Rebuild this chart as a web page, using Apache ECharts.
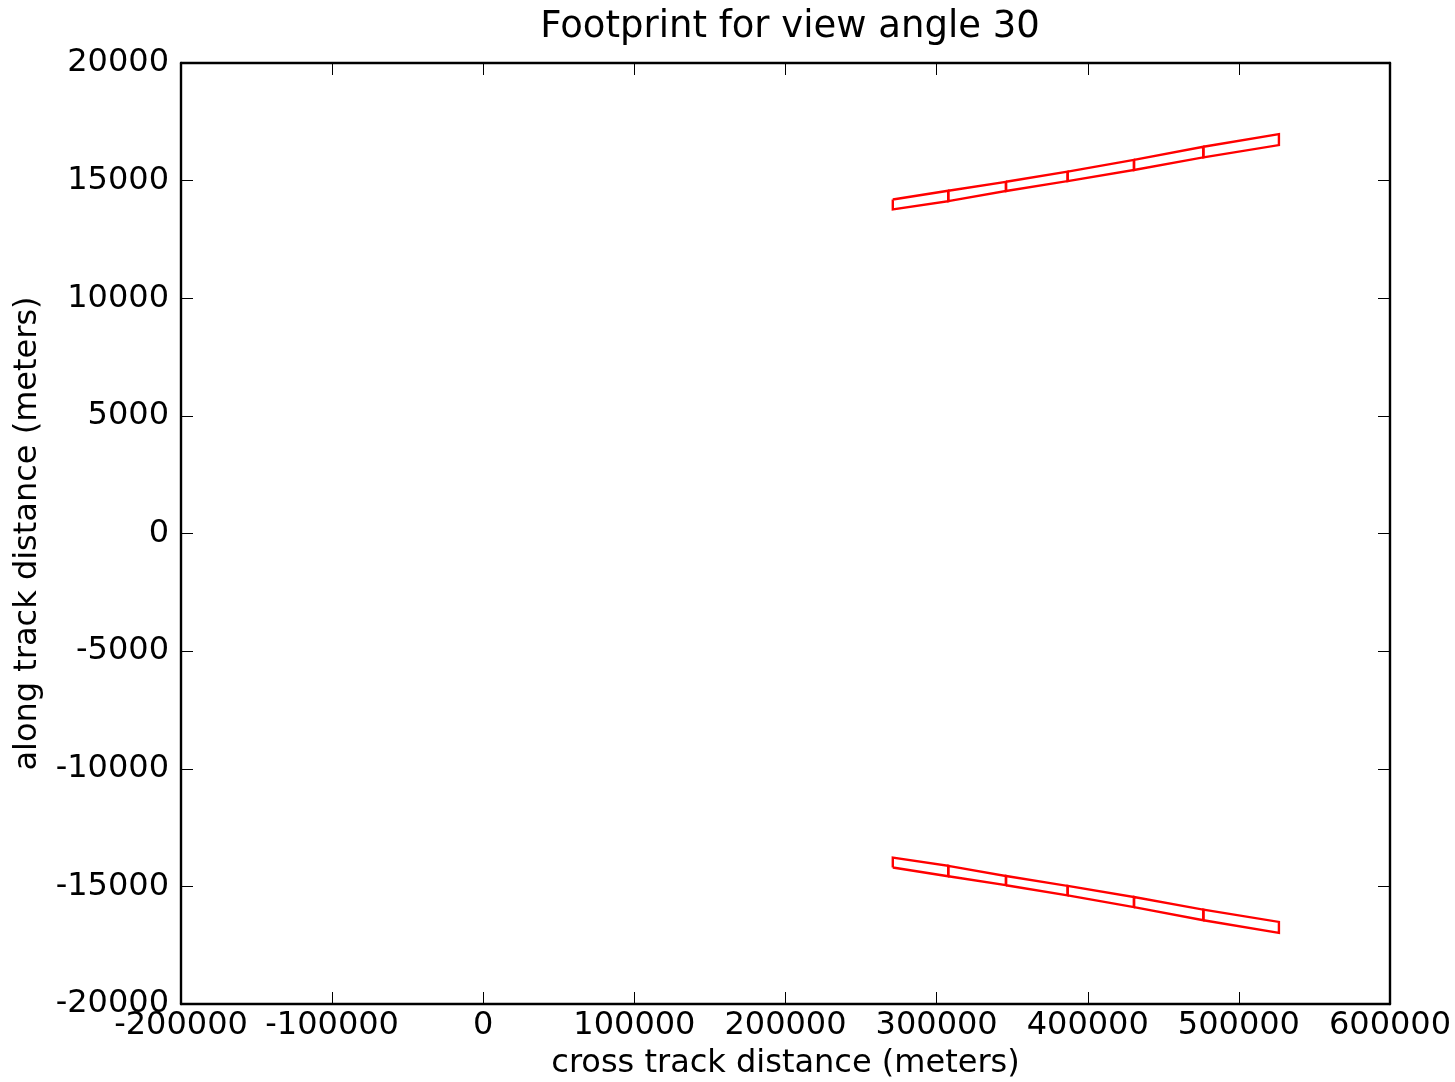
<!DOCTYPE html>
<html>
<head>
<meta charset="utf-8">
<script src="https://cdn.jsdelivr.net/npm/echarts@6/dist/echarts.min.js"></script>
<style>html,body{margin:0;padding:0;background:#fff}#c{width:1455px;height:1082px}</style>
</head>
<body>
<div id="c"></div>
<script>
// Footprint cell edges (cross track, meters)
const edgeX = [271000, 307700, 345900, 386700, 430600, 476500, 526500];
// Upper strip: outer and inner along-track edges (meters)
const upperOuterY = [14200, 14570, 14950, 15380, 15880, 16440, 16980];
const upperInnerY = [13780, 14130, 14560, 14980, 15450, 15990, 16510];
// Lower strip (mirror)
const lowerOuterY = [-14200, -14570, -14950, -15380, -15880, -16440, -16980];
const lowerInnerY = [-13780, -14130, -14560, -14980, -15450, -15990, -16510];

const xTicks = [-200000, -100000, 0, 100000, 200000, 300000, 400000, 500000, 600000];
const yTicks = [-20000, -15000, -10000, -5000, 0, 5000, 10000, 15000, 20000];

const FONT = 'DejaVu Sans';
const FS = 32;
const series = [];
function addStrip(outer, inner) {
  for (let i = 0; i < edgeX.length - 1; i++) {
    series.push({
      type: 'line', showSymbol: false, silent: true, animation: false,
      lineStyle: { color: '#ff0000', width: 2.4, join: 'miter' },
      data: [[edgeX[i], outer[i]], [edgeX[i+1], outer[i+1]], [edgeX[i+1], inner[i+1]], [edgeX[i], inner[i]], [edgeX[i], outer[i]]]
    });
  }
}
addStrip(upperOuterY, upperInnerY);
addStrip(lowerOuterY, lowerInnerY);

const chart = echarts.init(document.getElementById('c'), null, { renderer: 'canvas' });
const axisCommon = {
  type: 'value', splitLine: { show: false },
  axisLine: { show: true, onZero: false, lineStyle: { color: '#000', width: 2.4 } },
  axisTick: { show: true, inside: true, length: 12, lineStyle: { color: '#000', width: 1 } }
};
const fmt = v => String(v);
chart.setOption({
  animation: false,
  backgroundColor: '#fff',
  title: {
    text: 'Footprint for view angle 30', left: 785, textAlign: 'center', top: 4,
    textStyle: { fontFamily: FONT, fontSize: 37, fontWeight: 'normal', color: '#000' }
  },
  grid: { left: 181, right: 65, top: 63, bottom: 78, containLabel: false, outerBoundsMode: 'none' },
  xAxis: [
    Object.assign({}, axisCommon, {
      min: xTicks[0], max: xTicks[xTicks.length - 1], interval: 100000, position: 'bottom',
      name: 'cross track distance (meters)', nameLocation: 'middle', nameGap: 44,
      nameTextStyle: { fontFamily: FONT, fontSize: FS, color: '#000' },
      axisLabel: { fontFamily: FONT, fontSize: FS, color: '#000', margin: 6, formatter: fmt, showMinLabel: true, showMaxLabel: true }
    }),
    Object.assign({}, axisCommon, {
      min: xTicks[0], max: xTicks[xTicks.length - 1], interval: 100000, position: 'top',
      axisLabel: { show: false }
    })
  ],
  yAxis: [
    Object.assign({}, axisCommon, {
      min: yTicks[0], max: yTicks[yTicks.length - 1], interval: 5000, position: 'left',
      name: 'along track distance (meters)', nameLocation: 'middle', nameGap: 137, nameRotate: 90,
      nameTextStyle: { fontFamily: FONT, fontSize: FS, color: '#000' },
      axisLabel: { fontFamily: FONT, fontSize: FS, color: '#000', margin: 12, formatter: fmt, showMinLabel: true, showMaxLabel: true }
    }),
    Object.assign({}, axisCommon, {
      min: yTicks[0], max: yTicks[yTicks.length - 1], interval: 5000, position: 'right',
      axisLabel: { show: false }
    })
  ],
  series: series
});
</script>
</body>
</html>
